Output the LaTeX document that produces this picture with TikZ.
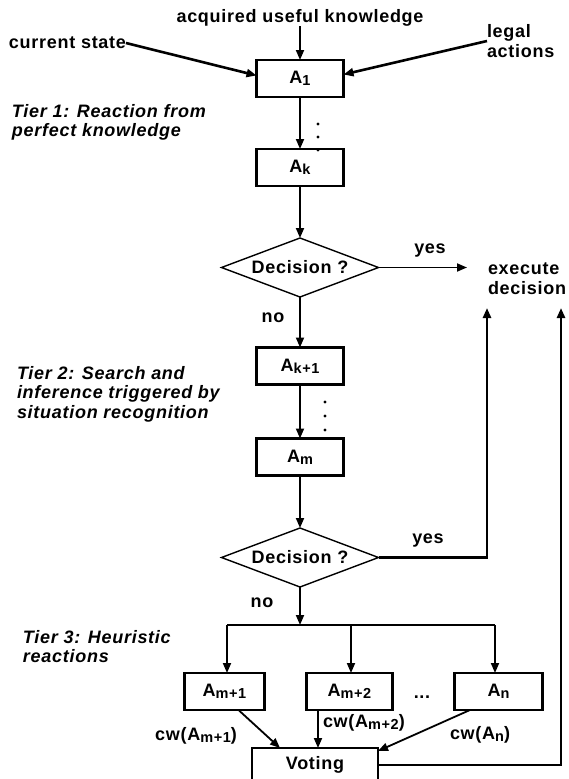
\documentclass[tikz,border=0pt]{standalone}
\usepackage{fontspec}
\setmainfont[LetterSpace=4]{Liberation Sans}
\usetikzlibrary{shapes.geometric,arrows.meta}

\newcommand{\idx}[1]{\raisebox{-2pt}{\fontsize{14.5}{14.5}\selectfont #1}}

\begin{document}
\begin{tikzpicture}[x=1pt,y=-1pt,
    every node/.style={inner sep=0pt,outer sep=0pt},
    font=\fontsize{18}{19.5}\selectfont\bfseries,
    box/.style={draw,line width=2.6pt,minimum width=87pt,minimum height=37pt},
    decide/.style={diamond,draw,line width=1.4pt,aspect=2.66,minimum width=157pt,minimum height=59pt},
    flow/.style={-{Triangle[length=10pt,width=8pt]},line width=1.8pt},
    heavy/.style={flow,line width=2.6pt},
    tier/.style={font=\fontsize{18}{19.5}\selectfont\bfseries\itshape,align=left,anchor=west}]
  \useasboundingbox (0,0) rectangle (569,779);
  \clip (0,0) rectangle (569,779);

  % inputs
  \node (acq) at (300,18) {acquired useful knowledge};
  \node[anchor=west] (cur) at (9,43) {current state};
  \node[anchor=west,align=left] (legal) at (487,41) {legal\\actions};

  % tier 1
  \node[box] (A1) at (300,78.5) {A\idx{1}};
  \node[box] (Ak) at (300,167.5) {A\idx{k}};
  \node[tier] (tier1) at (12,122.5) {Tier 1: Reaction from\\perfect knowledge};
  \node[decide] (dec1) at (300,267.5) {Decision ?};
  \node (yes1) at (430,251) {yes};
  \node (no1) at (273,318) {no};
  \node[anchor=west,align=left] (exec) at (488,278.5) {execute\\decision};
  \coordinate (hit1) at (467,267.5);
  \coordinate (in2) at (487,308);
  \coordinate (in3) at (561,308);

  % tier 2
  \node[box] (Ak1) at (300,366) {A\idx{k+1}};
  \node[box] (Am) at (300,457) {A\idx{m}};
  \node[tier] (tier2) at (17,394) {Tier 2: Search and\\inference triggered by\\situation recognition};
  \node[decide] (dec2) at (300,557.5) {Decision ?};
  \node (yes2) at (428,541) {yes};
  \node (no2) at (262,603) {no};

  % tier 3
  \coordinate (busL) at (227,625);
  \coordinate (busM) at (300,625);
  \coordinate (busC) at (351,625);
  \coordinate (busR) at (495,625);
  \node[tier] (tier3) at (23,646.5) {Tier 3: Heuristic\\reactions};
  \node[box,minimum width=80pt] (Am1) at (224.5,691.5) {A\idx{m+1}};
  \node[box,minimum width=86pt] (Am2) at (349.5,691.5) {A\idx{m+2}};
  \node[box,minimum width=88pt] (An) at (498.5,691.5) {A\idx{n}};
  \node (more) at (422,697) {...};
  \node[box,minimum width=126pt,minimum height=34pt] (vote) at (315,765) {Voting};
  \node (cw1) at (196,736) {cw(A\idx{m+1})};
  \node[anchor=west] (cw2) at (323,723) {cw(A\idx{m+2})};
  \node[anchor=west] (cwn) at (450,735) {cw(A\idx{n})};

  % dots
  \foreach \y in {124,137,150} \fill (318,\y) circle (1.6);
  \foreach \y in {402,416,430} \fill (325,\y) circle (1.6);

  % connectors
  \draw[flow] (acq) -- (A1);
  \draw[heavy] (cur.east) -- ([yshift=3pt]A1.west);
  \draw[heavy] (legal.west) -- ([yshift=4pt]A1.east);
  \draw[flow] (A1) -- (Ak);
  \draw[flow] (Ak) -- (dec1);
  \draw[flow] (dec1.east) -- (hit1);
  \draw[flow] (dec1) -- (Ak1);
  \draw[flow] (Ak1) -- (Am);
  \draw[flow] (Am) -- (dec2);
  \draw[heavy] (dec2.east) -| (in2);
  \draw[flow] (dec2) -- (busM);
  \draw[line width=1.8pt] (busL) -- (busR);
  \draw[flow] (busL) -- (busL |- Am1.north);
  \draw[flow] (busC) -- (busC |- Am2.north);
  \draw[flow] (busR) -- (busR |- An.north);
  \draw[flow] ([xshift=14pt]Am1.south) -- ([xshift=-35pt]vote.north);
  \draw[flow] ([xshift=-31.5pt]Am2.south) -- ([xshift=3pt]vote.north);
  \draw[flow] ([xshift=-28.5pt]An.south) -- ([yshift=-3pt]vote.north east);
  \draw[heavy] (vote.east) -| (in3);
\end{tikzpicture}
\end{document}
